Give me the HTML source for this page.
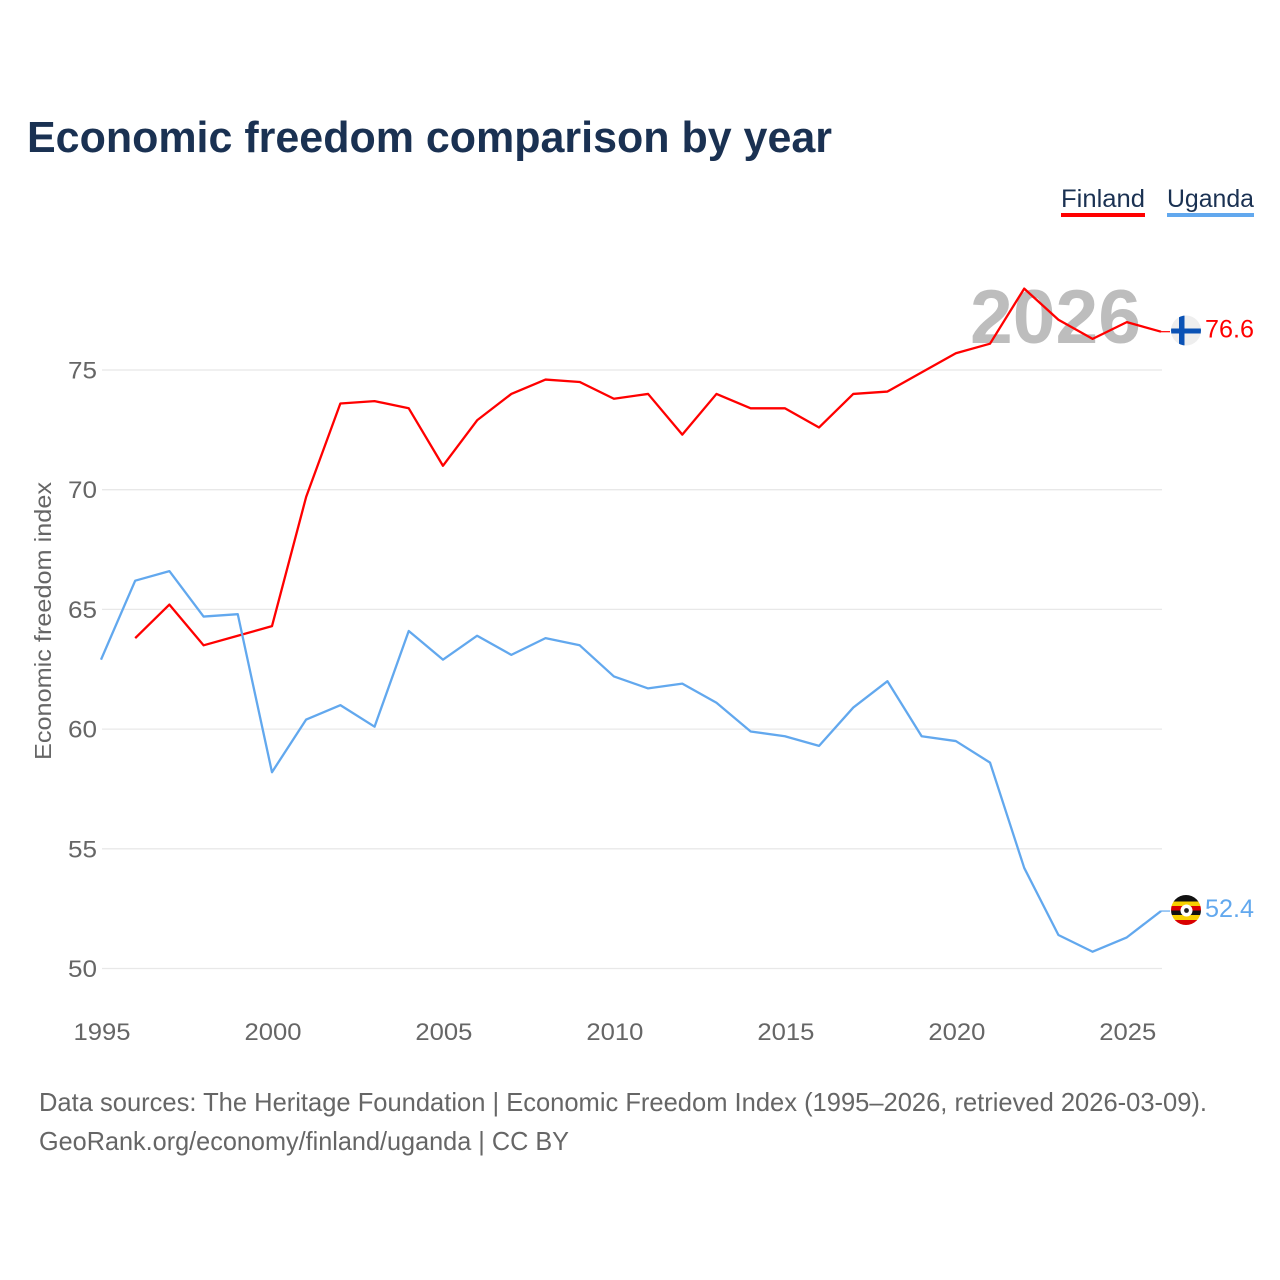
<!DOCTYPE html>
<html>
<head>
<meta charset="utf-8">
<title>Economic freedom comparison by year</title>
<style>
html,body{margin:0;padding:0;background:#fff;}
svg{display:block;font-family:"Liberation Sans",Arial,sans-serif;}
</style>
</head>
<body>
<svg id="chart" width="1280" height="1280" viewBox="0 0 1280 1280">
  <defs>
    <clipPath id="clip-fi"><circle cx="1186" cy="330.5" r="15"/></clipPath>
    <clipPath id="clip-ug"><circle cx="1186" cy="910" r="15"/></clipPath>
  </defs>
  <rect width="1280" height="1280" fill="#fff"/>
  <text x="27" y="152" font-size="44" font-weight="700" fill="#1a3152" textLength="805" lengthAdjust="spacingAndGlyphs">Economic freedom comparison by year</text>

  <g>
    <text x="1061" y="207" font-size="25" fill="#1a3152" textLength="84" lengthAdjust="spacingAndGlyphs">Finland</text>
    <rect x="1061" y="213" width="84" height="4" fill="#ff0000"/>
  </g>
  <g>
    <text x="1167" y="207" font-size="25" fill="#1a3152" textLength="87" lengthAdjust="spacingAndGlyphs">Uganda</text>
    <rect x="1167" y="213" width="87" height="4" fill="#62a8ee"/>
  </g>

  <g id="grid"></g>
  <g id="yticks"></g>
  <g id="xticks"></g>

  <text x="970" y="343" font-size="76" font-weight="700" fill="#bdbdbd" textLength="171" lengthAdjust="spacingAndGlyphs">2026</text>

  <text transform="translate(51,621) rotate(-90)" text-anchor="middle" font-size="23" fill="#666666" textLength="278" lengthAdjust="spacingAndGlyphs">Economic freedom index</text>

  <g id="series"></g>

  <g clip-path="url(#clip-fi)">
    <rect x="1171" y="315" width="30" height="31" fill="#eeeeee"/>
    <rect x="1179" y="315" width="5.5" height="31" fill="#0a52b5"/>
    <rect x="1171" y="328.5" width="30" height="5" fill="#0a52b5"/>
  </g>
  <g clip-path="url(#clip-ug)">
    <rect x="1171" y="895" width="30" height="6.5" fill="#111111"/>
    <rect x="1171" y="901.5" width="30" height="4.5" fill="#f7d000"/>
    <rect x="1171" y="906" width="30" height="4.5" fill="#d90000"/>
    <rect x="1171" y="910.5" width="30" height="4.5" fill="#111111"/>
    <rect x="1171" y="915" width="30" height="5" fill="#f7d000"/>
    <rect x="1171" y="920" width="30" height="5" fill="#d90000"/>
    <circle cx="1186.5" cy="910.5" r="6" fill="#ffffff"/>
    <circle cx="1186.5" cy="910.5" r="2.4" fill="#222222"/>
  </g>

  <text x="39" y="1111" font-size="26" fill="#666666" textLength="1168" lengthAdjust="spacingAndGlyphs">Data sources: The Heritage Foundation | Economic Freedom Index (1995–2026, retrieved 2026-03-09).</text>
  <text x="39" y="1150" font-size="26" fill="#666666" textLength="530" lengthAdjust="spacingAndGlyphs">GeoRank.org/economy/finland/uganda | CC BY</text>
</svg>
<script>
var years = [1995,1996,1997,1998,1999,2000,2001,2002,2003,2004,2005,2006,2007,2008,2009,2010,2011,2012,2013,2014,2015,2016,2017,2018,2019,2020,2021,2022,2023,2024,2025,2026];
var finlandValues = [null,63.8,65.2,63.5,63.9,64.3,69.7,73.6,73.7,73.4,71.0,72.9,74.0,74.6,74.5,73.8,74.0,72.3,74.0,73.4,73.4,72.6,74.0,74.1,74.9,75.7,76.1,78.4,77.1,76.3,77.0,76.6];
var ugandaValues = [62.9,66.2,66.6,64.7,64.8,58.2,60.4,61.0,60.1,64.1,62.9,63.9,63.1,63.8,63.5,62.2,61.7,61.9,61.1,59.9,59.7,59.3,60.9,62.0,59.7,59.5,58.6,54.2,51.4,50.7,51.3,52.4];
var yTickValues = [50,55,60,65,70,75];
var xTickValues = [1995,2000,2005,2010,2015,2020,2025];

var NS = 'http://www.w3.org/2000/svg';
function xScale(year){ return 101 + (year - 1995) * (1060 / 31); }
function yScale(v){ return 968.5 - (v - 50) * (598.5 / 25); }
function make(tag, attrs, parent, text){
  var el = document.createElementNS(NS, tag);
  for (var k in attrs) el.setAttribute(k, attrs[k]);
  if (text !== undefined) el.textContent = text;
  parent.appendChild(el);
  return el;
}

var gridG = document.getElementById('grid');
var yG = document.getElementById('yticks');
var xG = document.getElementById('xticks');
var seriesG = document.getElementById('series');

yTickValues.forEach(function(v){
  var line = make('line', {x1:102, x2:1162, y1:yScale(v), y2:yScale(v), stroke:'#e8e8e8', 'stroke-width':1.3}, gridG);
  
  
  var label = make('text', {x:97, y:yScale(v) + 8.5, 'text-anchor':'end', 'font-size':24, fill:'#666666', textLength:29, lengthAdjust:'spacingAndGlyphs'}, yG, String(v));
  
  
});

xTickValues.forEach(function(y){
  var label = make('text', {x:xScale(y) + 1, y:1040, 'text-anchor':'middle', 'font-size':24, fill:'#666666', textLength:57, lengthAdjust:'spacingAndGlyphs'}, xG, String(y));
  
  
});

function drawSeries(key, values, color){
  var d = '', started = false, lastV = null;
  values.forEach(function(v, i){
    if (v === null) return;
    d += (started ? 'L' : 'M') + xScale(years[i]).toFixed(2) + ' ' + yScale(v).toFixed(2);
    started = true;
    lastV = v;
  });
  var path = make('path', {d:d, fill:'none', stroke:color, 'stroke-width':2.3, 'stroke-linejoin':'round'}, seriesG);
  
  
  var lead = make('line', {x1:1161, x2:1170, y1:yScale(lastV), y2:yScale(lastV), stroke:color, 'stroke-width':1.2}, seriesG);
  
  
  var label = make('text', {x:1254, y:yScale(lastV) + 6, 'text-anchor':'end', 'font-size':25, fill:color, textLength:49, lengthAdjust:'spacingAndGlyphs'}, seriesG, lastV.toFixed(1));
  
  
}
drawSeries('finland', finlandValues, '#ff0000');
drawSeries('uganda', ugandaValues, '#62a8ee');
</script>
</body>
</html>
